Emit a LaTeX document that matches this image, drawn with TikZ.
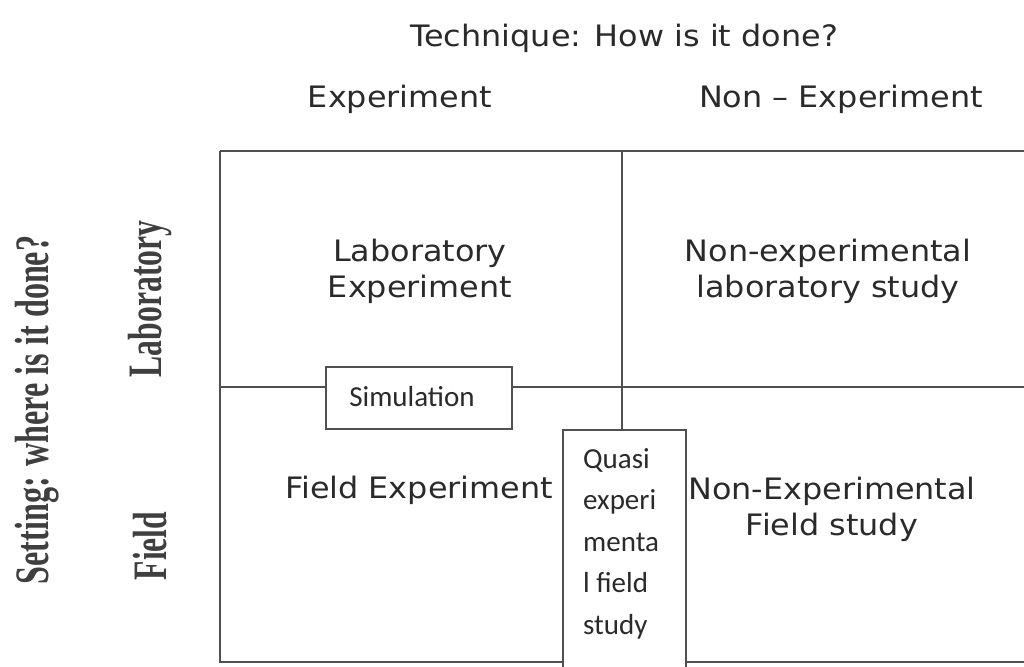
\documentclass[tikz,border=0pt]{standalone}
\usepackage{fontspec}
\setmainfont{DejaVu Sans}[FakeStretch=1.08]
\newfontfamily\calfont{Carlito}
\newfontfamily\sidefont{Liberation Serif}
\definecolor{linegray}{HTML}{505050}
\definecolor{textgray}{HTML}{2A2A2A}
\begin{document}
\begin{tikzpicture}[x=1pt,y=-1pt,
  gridline/.style={draw=linegray,line width=1.8pt},
  maintext/.style={font=\fontsize{29.5}{36}\selectfont,text=textgray,align=center,inner sep=0pt},
  boxnode/.style={draw=linegray,line width=1.8pt,fill=white,inner sep=0pt},
  smalltext/.style={font=\calfont\fontsize{29}{41.5}\selectfont,text=textgray,inner sep=0pt},
  sidetext/.style={font=\sidefont\bfseries\fontsize{48}{48}\selectfont,text=textgray!90,rotate=90,inner sep=0pt}]
\useasboundingbox (0,0) rectangle (1024,666);
\fill[white] (0,0) rectangle (1024,666);
\clip (0,0) rectangle (1024,666);
% grid
\coordinate (tl) at (220,151);
\coordinate (tr) at (1030,151);
\coordinate (ml) at (220,387);
\coordinate (mr) at (1030,387);
\coordinate (bl) at (220,662);
\coordinate (br) at (1030,662);
\coordinate (mt) at (622,151);
\coordinate (mm) at (622,429);
\draw[gridline] (tl) -- (tr);
\draw[gridline] (tl) -- (bl) -- (br);
\draw[gridline] (ml) -- (mr);
\draw[gridline] (mt) -- (mm);
% headings
\node[maintext,anchor=base] (tech) at (624,47) {Technique: How is it done?};
\node[maintext,anchor=base] (colexp) at (400,108) {Experiment};
\node[maintext,anchor=base] (colnon) at (841,108) {Non -- Experiment};
% cells
\node[maintext,anchor=center] (labexp) at (420,271) {Laboratory\\Experiment};
\node[maintext,anchor=center] (nonlab) at (828,271) {Non-experimental\\laboratory study};
\node[maintext,anchor=base] (fieldexp) at (419,498) {Field Experiment};
\node[maintext,anchor=center] (nonfield) at (832,509) {Non-Experimental\\Field study};
% boxes
\node[boxnode,minimum width=186,minimum height=62] (sim) at (419,398) {};
\node[smalltext,anchor=base] (simtxt) at (412,406) {Simulation};
\node[boxnode,anchor=north west,minimum width=123,minimum height=260] (quasi) at (562,429) {};
\node[smalltext,anchor=base west,align=left] (quasitxt) at (583,634) {Quasi\\experi\\menta\\l field\\study};
% side labels
\node[sidetext] (setting) at (37,410) {\scalebox{0.67}[1]{Setting: where is it done?}};
\node[sidetext] (laby) at (150,299) {\scalebox{0.66}[1]{Laboratory}};
\node[sidetext] (fieldy) at (150,546) {\scalebox{0.66}[1]{Field}};
\end{tikzpicture}
\end{document}
